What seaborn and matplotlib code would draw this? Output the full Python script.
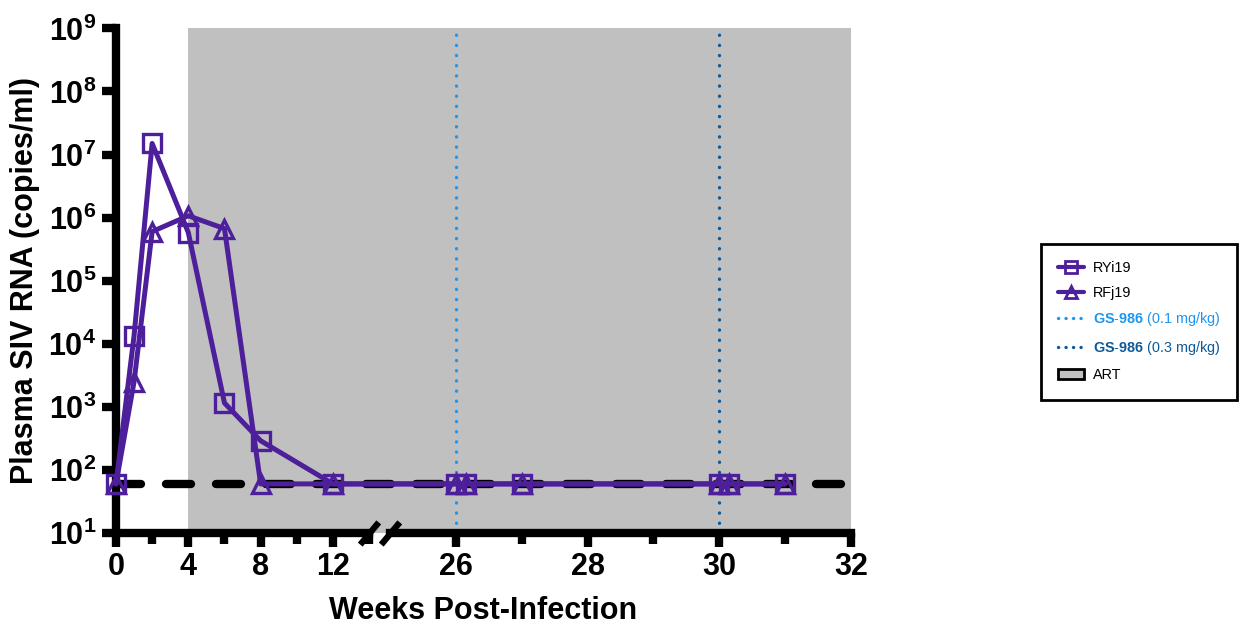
import numpy as np
import matplotlib
matplotlib.use("Agg")
import matplotlib.pyplot as plt
from matplotlib.lines import Line2D
from matplotlib.patches import Patch
from matplotlib.ticker import FuncFormatter, FixedLocator, NullLocator
import seaborn as sns

# data (weeks post-infection, copies/ml)
weeks_ryi19 = [0, 1, 2, 4, 6, 8, 12, 26, 26.15, 27, 30, 30.15, 31]
vl_ryi19 = [60, 13400, 1.5e7, 5.8e5, 1150, 290, 60, 60, 60, 60, 60, 60, 60]
weeks_rfj19 = [0, 1, 2, 4, 6, 8, 12, 26, 26.15, 27, 30, 30.15, 31]
vl_rfj19 = [60, 2500, 6.0e5, 1.07e6, 6.7e5, 60, 60, 60, 60, 60, 60, 60, 60]

limit_of_detection = 60
art_start, art_end = 4, 32
gs986_weeks = [26, 30]
gs986_labels = [r"$\mathbf{GS}$-$\mathbf{986}$ (0.1 mg/kg)",
                r"$\mathbf{GS}$-$\mathbf{986}$ (0.3 mg/kg)"]

x_major = [0, 4, 8, 12, 26, 28, 30, 32]
x_minor = [2, 6, 10, 14, 27, 29, 31]
x_labels = ["0", "4", "8", "12", "26", "28", "30", "32"]
y_ticks = [10 ** k for k in range(1, 10)]

break_lo, break_hi = 14, 25

purple = "#4E1F9B"
light_blue = "#1E96F0"
dark_blue = "#0E5A98"
grey = "#C0C0C0"

sns.set_style("ticks")
plt.rcParams["font.family"] = ["Liberation Sans", "DejaVu Sans"]
plt.rcParams["mathtext.fontset"] = "custom"
plt.rcParams["mathtext.rm"] = "Liberation Sans"
plt.rcParams["mathtext.bf"] = "Liberation Sans:bold"
for key in ["text.color", "axes.labelcolor", "xtick.color", "ytick.color",
            "axes.edgecolor"]:
    plt.rcParams[key] = "black"


# piecewise axis: weeks 0-14 compressed, 14-25 cut out, 25-32 stretched
def fwd(x):
    x = np.asarray(x, dtype=float)
    return np.where(x <= break_lo, x * 18.08,
                    np.where(x <= break_hi, 253.1 + (x - break_lo) * 21.1 / 11,
                             274.2 + (x - break_hi) * 65.8))


def inv(u):
    u = np.asarray(u, dtype=float)
    return np.where(u <= 253.1, u / 18.08,
                    np.where(u <= 274.2, break_lo + (u - 253.1) * 11 / 21.1,
                             break_hi + (u - 274.2) / 65.8))


fig = plt.figure(figsize=(12.39, 6.26), dpi=100)
ax = fig.add_axes([0.0936, 0.1486, 0.5932, 0.806])
ax.set_xscale("function", functions=(fwd, inv))
ax.set_yscale("log")

# ART shading and reference lines
ax.axvspan(art_start, art_end, color=grey, lw=0, zorder=0)
ax.axhline(limit_of_detection, color="black", lw=6, ls=(0, (3, 3)),
           dash_capstyle="round", zorder=2)
for wk, col in zip(gs986_weeks, [light_blue, dark_blue]):
    ax.axvline(wk, color=col, lw=2.4, ls=(0, (0.05, 3.0)),
               dash_capstyle="round", zorder=1)

# animals
line_kw = dict(color=purple, linewidth=3.6, markerfacecolor="none",
               markeredgecolor=purple, markeredgewidth=2.4, markersize=13,
               estimator=None, sort=False, clip_on=False, zorder=4)
sns.lineplot(x=weeks_rfj19, y=vl_rfj19, ax=ax, marker="^", **line_kw)
sns.lineplot(x=weeks_ryi19, y=vl_ryi19, ax=ax, marker="s", **line_kw)

ax.set_xlim(0, 32)
ax.set_ylim(10, 1e9)

# axes styling
ax.spines["top"].set_visible(False)
ax.spines["right"].set_visible(False)
ax.spines["bottom"].set_visible(False)
ax.spines["left"].set_linewidth(6)
xt = ax.get_xaxis_transform()
for seg in [(0, break_lo), (break_hi, 32)]:
    ax.plot(seg, [0, 0], transform=xt, color="black", lw=6,
            solid_capstyle="projecting", clip_on=False, zorder=5)
ax.plot([break_lo, break_hi], [0, 0], transform=xt, ls="none",
        marker=[(-1, -1.2), (1, 1.2)], ms=16, mew=4.5, mec="black",
        clip_on=False, zorder=6)

ax.xaxis.set_major_locator(FixedLocator(x_major))
ax.xaxis.set_minor_locator(FixedLocator(x_minor))
ax.set_xticklabels(x_labels, fontsize=21, fontweight="bold")
ax.set_yticks(y_ticks)
ax.yaxis.set_minor_locator(NullLocator())
ax.yaxis.set_major_formatter(FuncFormatter(
    lambda v, p: r"$\mathbf{10^{%d}}$" % round(np.log10(v))))
ax.tick_params(axis="both", which="major", width=6, length=10,
               color="black", labelsize=22, pad=4)
ax.tick_params(axis="x", which="minor", width=6, length=8, color="black")

ax.set_xlabel("Weeks Post-Infection", fontsize=22, fontweight="bold", labelpad=10)
ax.set_ylabel("Plasma SIV RNA (copies/ml)", fontsize=22, fontweight="bold", labelpad=6)

# legend
handles = [
    Line2D([], [], color=purple, lw=3, marker="s", ms=8, mfc="none", mec=purple, mew=2),
    Line2D([], [], color=purple, lw=3, marker="^", ms=8, mfc="none", mec=purple, mew=2),
    Line2D([], [], color=light_blue, lw=2.4, ls=(0, (0.05, 2.2)), dash_capstyle="round"),
    Line2D([], [], color=dark_blue, lw=2.4, ls=(0, (0.05, 2.2)), dash_capstyle="round"),
    Patch(facecolor=grey, edgecolor="black", lw=2),
]
labels = ["RYi19", "RFj19"] + gs986_labels + ["ART"]
leg = fig.legend(handles, labels, loc="center",
                 bbox_to_anchor=(1139 / 1239, 1 - 321.5 / 626),
                 frameon=True, fancybox=False, edgecolor="black",
                 framealpha=1, fontsize=10.4,
                 borderpad=1.2, labelspacing=0.75, handlelength=1.8,
                 handletextpad=0.6)
leg.get_frame().set_linewidth(2)
leg.get_texts()[2].set_color(light_blue)
leg.get_texts()[3].set_color(dark_blue)

fig.savefig("out.png", dpi=100)
